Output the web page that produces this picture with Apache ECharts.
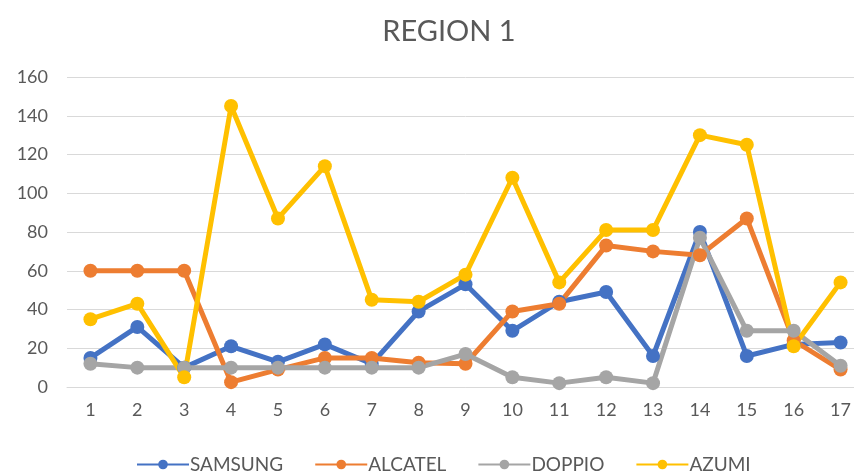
<!DOCTYPE html>
<html>
<head>
<meta charset="utf-8">
<script src="https://cdn.jsdelivr.net/npm/echarts@6/dist/echarts.min.js"></script>
<style>html,body{margin:0;padding:0;background:#fff;overflow:hidden}#c{width:864px;height:476px}</style>
</head>
<body>
<div id="c"></div>
<script>
var categories = ['1','2','3','4','5','6','7','8','9','10','11','12','13','14','15','16','17'];
var samsung = [15, 31, 10, 21, 13, 22, 12, 39, 53, 29, 44, 49, 16, 80, 16, 22, 23];
var alcatel = [60, 60, 60, 2.5, 9, 15, 15, 12.5, 12, 39, 43, 73, 70, 68, 87, 24, 9];
var doppio = [12, 10, 10, 10, 10, 10, 10, 10, 17, 5, 2, 5, 2, 77, 29, 29, 11];
var azumi = [35, 43, 5, 145, 87, 114, 45, 44, 58, 108, 54, 81, 81, 130, 125, 21, 54];
var seriesNames = ['SAMSUNG', 'ALCATEL', 'DOPPIO', 'AZUMI'];
var colors = ['#4472C4', '#ED7D31', '#A5A5A5', '#FFC000'];
var dataSets = [samsung, alcatel, doppio, azumi];

var font = 'Lato, "Open Sans", sans-serif';
var chart = echarts.init(document.getElementById('c'), null, {renderer: 'canvas'});
chart.setOption({
  animation: false,
  color: colors,
  title: {
    text: 'REGION 1', left: 444, textAlign: 'center', top: 12,
    textStyle: {fontFamily: font, fontSize: 29, fontWeight: 'normal', color: '#595959'}
  },
  legend: {
    bottom: 2, left: 136, padding: 0,
    itemWidth: 52, itemHeight: 12, itemGap: 31,
    textStyle: {fontFamily: font, fontSize: 19, color: '#595959', padding: [0, 0, 0, -4]},
    data: seriesNames.map(function (n) { return {name: n}; })
  },
  grid: {left: 67, right: 0, top: 77, bottom: 89, containLabel: false},
  xAxis: {
    type: 'category', data: categories, boundaryGap: true,
    axisLine: {lineStyle: {color: '#D9D9D9', width: 1}},
    axisTick: {show: false},
    axisLabel: {fontFamily: font, fontSize: 18, color: '#595959', margin: 14}
  },
  yAxis: {
    type: 'value', min: 0, max: 160, interval: 20,
    axisLine: {show: false}, axisTick: {show: false},
    splitLine: {lineStyle: {color: '#D9D9D9', width: 1}},
    axisLabel: {fontFamily: font, fontSize: 18, color: '#595959', margin: 19}
  },
  series: dataSets.map(function (d, i) {
    return {
      name: seriesNames[i], type: 'line', data: d,
      symbol: 'circle', symbolSize: 14,
      lineStyle: {width: 5, color: colors[i]},
      itemStyle: {color: colors[i]}
    };
  })
});
</script>
</body>
</html>
